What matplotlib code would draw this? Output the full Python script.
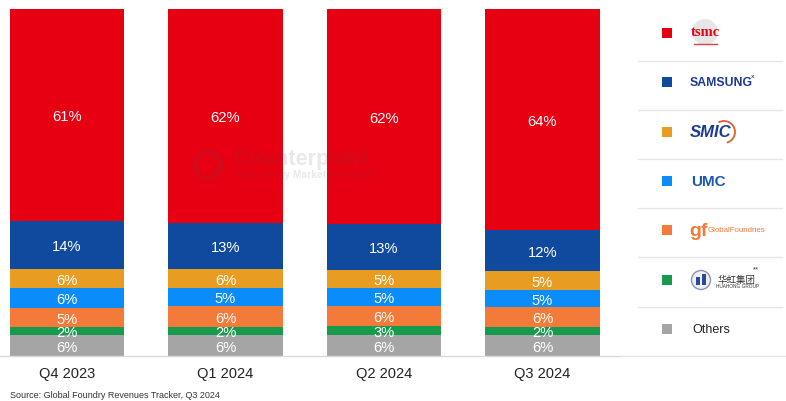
import matplotlib
matplotlib.use("Agg")
import matplotlib.pyplot as plt
from matplotlib.patches import Circle, Arc, Rectangle

plt.rcParams['font.family'] = ['Liberation Sans', 'Noto Sans CJK SC', 'DejaVu Sans']

quarters = ["Q4 2023", "Q1 2024", "Q2 2024", "Q3 2024"]
companies = ["TSMC", "Samsung", "SMIC", "UMC", "GlobalFoundries", "Huahong", "Others"]

# bar heights, the printed labels are rounded differently
others = [6.0, 6.0, 6.0, 6.0]
huahong = [2.3, 2.5, 2.6, 2.3]
globalfoundries = [5.5, 5.8, 5.7, 5.7]
umc = [5.8, 5.2, 5.2, 5.0]
smic = [5.5, 5.5, 5.2, 5.4]
samsung = [13.8, 13.3, 13.3, 11.8]
tsmc = [61.1, 61.7, 62.0, 63.8]

others_lbl = ["6%", "6%", "6%", "6%"]
huahong_lbl = ["2%", "2%", "3%", "2%"]
globalfoundries_lbl = ["5%", "6%", "6%", "6%"]
umc_lbl = ["6%", "5%", "5%", "5%"]
smic_lbl = ["6%", "6%", "5%", "5%"]
samsung_lbl = ["14%", "13%", "13%", "12%"]
tsmc_lbl = ["61%", "62%", "62%", "64%"]

# bottom to top
stack = [
    (others, others_lbl, "#A5A5A5"),
    (huahong, huahong_lbl, "#169B4C"),
    (globalfoundries, globalfoundries_lbl, "#F47A3A"),
    (umc, umc_lbl, "#0A8CFA"),
    (smic, smic_lbl, "#E89C22"),
    (samsung, samsung_lbl, "#0F4A9E"),
    (tsmc, tsmc_lbl, "#E60012"),
]

W, H = 786, 402
fig = plt.figure(figsize=(W / 100, H / 100), dpi=100)

# main axes, 0..622 px wide, y 10..357 px from the top
ax = fig.add_axes([0, (H - 357) / H, 622 / W, 347 / H])
bottom = [0.0] * len(quarters)
for values, labels, color in stack:
    ax.bar(range(len(quarters)), values, width=0.725, bottom=bottom, color=color, linewidth=0)
    for i, (v, lab) in enumerate(zip(values, labels)):
        ax.annotate(lab, (i, bottom[i] + v / 2), xytext=(0, -0.8), textcoords="offset points",
                    color="white", ha="center", va="center", fontsize=10.6)
        bottom[i] += v

ax.set_xlim(-67 / 158.5, 555 / 158.5)
ax.set_ylim(0, max(bottom))
ax.set_xticks(range(len(quarters)))
ax.set_xticklabels(quarters, fontsize=10.5, color="#222222")
ax.tick_params(axis="x", length=0, pad=7.5)
ax.set_yticks([])
for side in ["top", "left", "right"]:
    ax.spines[side].set_visible(False)
ax.spines["bottom"].set_color("#D9D9D9")
ax.spines["bottom"].set_linewidth(1)

# overlay in pixel coordinates for the watermark and the logo legend
ov = fig.add_axes([0, 0, 1, 1], facecolor="none")
ov.set_xlim(0, W)
ov.set_ylim(H, 0)
ov.axis("off")

wm = "#555555"
ov.add_patch(Circle((208, 166), 13, fill=False, ec=wm, lw=3.5, alpha=0.13))
ov.text(233, 160, "Counterpoint", color=wm, alpha=0.13, fontsize=15.6, weight="bold", va="center")
ov.text(233, 175, "Technology Market Research", color=wm, alpha=0.13, fontsize=7.4, weight="bold", va="center")

ov.text(10, 396, "Source: Global Foundry Revenues Tracker, Q3 2024", fontsize=6.5, color="#333333", va="center")

# legend rows
row_y = [34, 83, 133, 182, 231, 281, 330]
for (values, labels, color), y in zip(reversed(stack), row_y):
    ov.add_patch(Rectangle((662, y - 5), 10, 10, color=color, lw=0))
for y in [62, 111, 160, 209, 258, 308]:
    ov.plot([638, 782], [y, y], color="#E6E6E6", lw=1)
ov.plot([620, 786], [357, 357], color="#E6E6E6", lw=1)

navy = "#1C3A94"
ov.add_patch(Circle((705, 33), 13, color="#E6E6E6", lw=0))
ov.text(705, 33, "tsmc", color="#E60012", fontsize=10.5, weight="bold", family="Liberation Serif", ha="center", va="center")
ov.plot([694, 717], [44.5, 44.5], color="#D8404A", lw=1)

ov.text(690, 83.5, "SAMSUNG", color=navy, fontsize=8.8, weight="bold", va="center")
ov.text(751, 76, "x", color="#555555", fontsize=4.5, weight="bold", va="center")

ov.text(690, 133, "SMIC", color=navy, fontsize=12, weight="bold", style="italic", va="center")
ov.add_patch(Arc((724, 133), 22, 22, theta1=-120, theta2=75, color="#E0602A", lw=1.3))

ov.text(691, 182, "UMC", color="#1B5AA8", fontsize=11, weight="bold", va="center")

ov.text(689, 232, "gf", color="#F47A3A", fontsize=14, weight="bold", va="center")
ov.text(708, 231, "GlobalFoundries", color="#F47A3A", fontsize=5.7, va="center")

ov.add_patch(Circle((701, 281), 9.5, fc="#EEF0F6", ec="#8A93B5", lw=1))
ov.add_patch(Rectangle((696, 278), 3.5, 8, color="#2A4A9A", lw=0))
ov.add_patch(Rectangle((702, 275), 3.5, 11, color="#2A4A9A", lw=0))
ov.text(737, 280, "华虹集团", color="#333333", fontsize=6.8, va="center", ha="center")
ov.text(737, 287, "HUAHONG GROUP", color="#333333", fontsize=3.4, va="center", ha="center")
ov.text(756, 270, "**", color="#333333", fontsize=5.5, va="center", ha="center")

ov.text(692, 330, "Others", color="#222222", fontsize=9, va="center")

fig.savefig("out.png", dpi=100)
